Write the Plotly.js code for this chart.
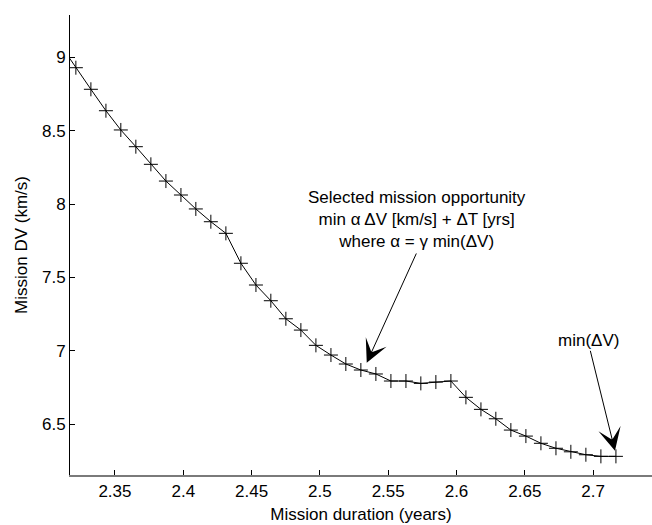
<!DOCTYPE html>
<html>
<head>
<meta charset="utf-8">
<script src="https://cdn.plot.ly/plotly-3.0.1.min.js"></script>
<style>html,body{margin:0;padding:0;background:#fff;}#chart{width:652px;height:525px;}</style>
</head>
<body>
<div id="chart"></div>
<script>
// Mission duration (years)
const duration = [2.3104, 2.3214, 2.3324, 2.3434, 2.3543, 2.3653, 2.3763, 2.3873, 2.3983, 2.4092,
  2.4202, 2.4312, 2.4422, 2.4532, 2.4641, 2.4751, 2.4861, 2.4971, 2.5081, 2.5190,
  2.5300, 2.5410, 2.5520, 2.5630, 2.5739, 2.5849, 2.5959, 2.6069, 2.6179, 2.6288,
  2.6398, 2.6508, 2.6618, 2.6728, 2.6837, 2.6947, 2.7057, 2.7167];
// Mission DV (km/s)
const deltaV = [9.08, 8.929, 8.782, 8.636, 8.505, 8.391, 8.271, 8.157, 8.062, 7.967,
  7.880, 7.801, 7.597, 7.449, 7.342, 7.219, 7.142, 7.038, 6.972, 6.911,
  6.870, 6.843, 6.795, 6.795, 6.779, 6.788, 6.795, 6.684, 6.602, 6.538,
  6.461, 6.420, 6.371, 6.337, 6.313, 6.293, 6.282, 6.282];

const xTicks = [2.35, 2.4, 2.45, 2.5, 2.55, 2.6, 2.65, 2.7];
const xTickLabels = ['2.35', '2.4', '2.45', '2.5', '2.55', '2.6', '2.65', '2.7'];
const yTicks = [6.5, 7, 7.5, 8, 8.5, 9];
const yTickLabels = ['6.5', '7', '7.5', '8', '8.5', '9'];

const selText = 'Selected mission opportunity<br>min \u03b1 \u0394V [km/s] + \u0394T [yrs]<br>where \u03b1 = \u03b3 min(\u0394V)';
const minText = 'min(\u0394V)';

const font = {family: 'Liberation Sans, Arial, sans-serif', size: 17, color: '#000'};

const trace = {
  x: duration, y: deltaV, type: 'scatter', mode: 'lines+markers',
  line: {color: '#000', width: 1},
  marker: {symbol: 'cross-thin-open', size: 10, line: {color: '#000', width: 1}, color: '#000'},
  cliponaxis: true, hoverinfo: 'skip'
};

const layout = {
  width: 652, height: 525,
  margin: {l: 70, r: 0, t: 15, b: 50},
  paper_bgcolor: '#fff', plot_bgcolor: '#fff',
  showlegend: false,
  font: font,
  xaxis: {
    range: [2.3171, 2.7431], tickvals: xTicks, ticktext: xTickLabels,
    ticks: 'inside', ticklen: 5, tickcolor: '#000', tickwidth: 1,
    showline: true, linecolor: '#7a7a7a', linewidth: 2,
    showgrid: false, zeroline: false, mirror: false,
    tickfont: font,
    title: {text: 'Mission duration (years)', font: font, standoff: 8}
  },
  yaxis: {
    range: [6.155, 9.288], tickvals: yTicks, ticktext: yTickLabels,
    ticks: 'inside', ticklen: 5, tickcolor: '#000', tickwidth: 1,
    showline: true, linecolor: '#000', linewidth: 1,
    showgrid: false, zeroline: false, mirror: false,
    tickfont: font,
    title: {text: 'Mission DV (km/s)', font: font, standoff: 10}
  },
  annotations: [
    {x: 2.5714, y: 7.895, xref: 'x', yref: 'y', text: selText, showarrow: false,
     font: font, xanchor: 'center', yanchor: 'middle', align: 'center'},
    {x: 2.5343, y: 6.920, ax: 2.5711, ay: 7.674, xref: 'x', yref: 'y', axref: 'x', ayref: 'y',
     text: '', showarrow: true, arrowhead: 3, arrowsize: 3.8, arrowwidth: 1, arrowcolor: '#000'},
    {x: 2.6966, y: 7.069, xref: 'x', yref: 'y', text: minText, showarrow: false,
     font: font, xanchor: 'center', yanchor: 'middle'},
    {x: 2.716, y: 6.320, ax: 2.6977, ay: 7.011, xref: 'x', yref: 'y', axref: 'x', ayref: 'y',
     text: '', showarrow: true, arrowhead: 3, arrowsize: 3.8, arrowwidth: 1, arrowcolor: '#000'}
  ]
};

Plotly.newPlot('chart', [trace], layout, {displayModeBar: false, staticPlot: true});
</script>
</body>
</html>
